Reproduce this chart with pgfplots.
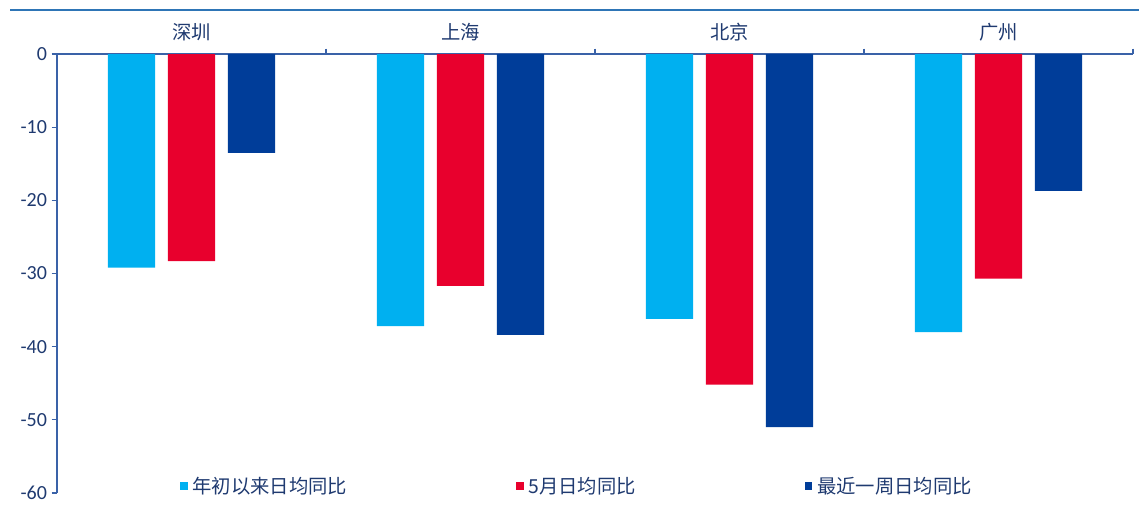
\documentclass[border=0pt]{standalone}
\usepackage{pgfplots}
\pgfplotsset{compat=1.18}
\usepackage{fontspec}
\setmainfont{Carlito}
\newfontfamily\cjk{Noto Sans CJK SC}
\definecolor{cCyan}{HTML}{00B0F0}
\definecolor{cRed}{HTML}{E8002D}
\definecolor{cDark}{HTML}{003D99}
\definecolor{cText}{HTML}{1F3A70}
\definecolor{cAxis}{HTML}{3A62A8}
\definecolor{cRule}{HTML}{2E75B6}
\begin{document}
\begin{tikzpicture}
\path[use as bounding box] (0pt,0pt) rectangle (854.25pt,378pt);
\draw[cRule, line width=1.2pt] (7.5pt,370.5pt) -- (854.25pt,370.5pt);
\begin{axis}[
  at={(42.75pt,8.25pt)}, anchor=south west,
  scale only axis, width=807pt, height=329.25pt,
  xmin=-0.5, xmax=3.5, ymin=-60, ymax=0,
  axis x line*=top, axis y line*=left,
  axis line style={cAxis, line width=0.8pt},
  xtick={0,1,2,3},
  xticklabels={深圳,上海,北京,广州},
  xticklabel style={font=\cjk\fontsize{14.5pt}{15pt}\selectfont, text=cText, yshift=2pt},
  major x tick style={draw=none},
  minor xtick={0.5,1.5,2.5,3.5},
  minor x tick style={cAxis, line width=0.8pt},
  minor tick length=4pt,
  ytick={0,-10,-20,-30,-40,-50,-60},
  yticklabel style={font=\fontsize{15pt}{16pt}\selectfont, text=cText},
  /pgf/number format/assume math mode=true,
  y tick style={cAxis, line width=0.8pt},
  major tick length=4pt,
  tick align=outside,
  bar width=0.175,
  legend style={draw=none, fill=none, at={(0.4837,0.016)}, anchor=center,
    legend columns=3, column sep=1.5pt,
    font=\cjk\fontsize{14.5pt}{15pt}\selectfont, text=cText,
    /tikz/every even column/.append style={column sep=125pt}},
  legend image code/.code={\fill (0pt,-3pt) rectangle (5.5pt,3pt);},
  clip=false,
]
\addplot[ybar, draw=none, fill=cCyan, bar shift=-0.223] coordinates {(0,-29.2) (1,-37.2) (2,-36.2) (3,-38.0)};
\addplot[ybar, draw=none, fill=cRed, bar shift=0] coordinates {(0,-28.3) (1,-31.7) (2,-45.2) (3,-30.7)};
\addplot[ybar, draw=none, fill=cDark, bar shift=0.223] coordinates {(0,-13.5) (1,-38.4) (2,-51.0) (3,-18.7)};
\legend{年初以来日均同比,5月日均同比,最近一周日均同比}
\end{axis}
\end{tikzpicture}
\end{document}
